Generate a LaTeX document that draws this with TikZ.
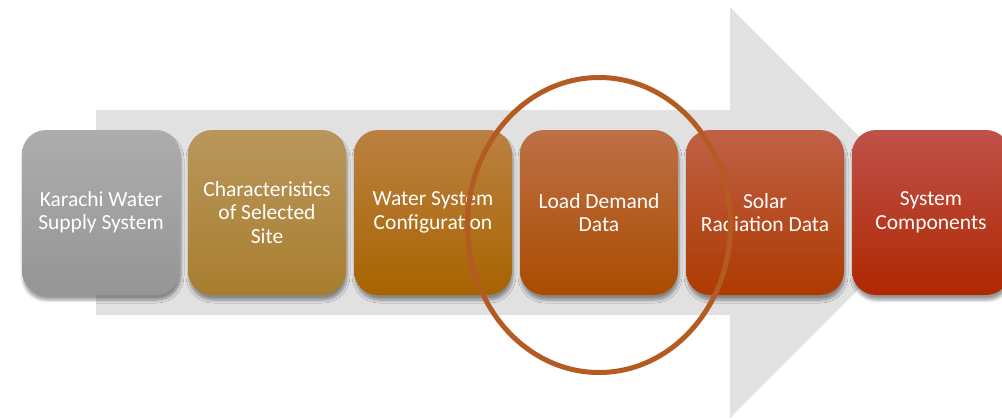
\documentclass[tikz,border=0pt]{standalone}
\usepackage{fontspec}
\setmainfont{Carlito}
\usetikzlibrary{shapes.geometric,shadows.blur}

% box colours: top / middle / bottom of each vertical gradient
\definecolor{g1t}{HTML}{ADADAD}\definecolor{g1m}{HTML}{A2A2A2}\definecolor{g1b}{HTML}{959595}
\definecolor{g2t}{HTML}{B9975C}\definecolor{g2m}{HTML}{B28A3A}\definecolor{g2b}{HTML}{A87D2E}
\definecolor{g3t}{HTML}{BB8142}\definecolor{g3m}{HTML}{B46E0C}\definecolor{g3b}{HTML}{A86300}
\definecolor{g4t}{HTML}{BD7046}\definecolor{g4m}{HTML}{B75606}\definecolor{g4b}{HTML}{AA4C00}
\definecolor{g5t}{HTML}{BF6046}\definecolor{g5m}{HTML}{BB4508}\definecolor{g5b}{HTML}{AE3A00}
\definecolor{g6t}{HTML}{C0514A}\definecolor{g6m}{HTML}{BB320A}\definecolor{g6b}{HTML}{AF2800}
\definecolor{arrowgrey}{HTML}{E1E1E1}
\definecolor{ringbrown}{HTML}{B35B22}

\tikzset{
  stepbox/.style n args={3}{
    rounded corners=24pt, minimum width=158pt, minimum height=165pt,
    inner sep=0pt, align=center, text=white,
    font=\fontsize{21.5}{23.5}\selectfont,
    top color=#1, middle color=#2, bottom color=#3,
    blur shadow={shadow xshift=1pt, shadow yshift=-5pt, shadow blur steps=6,
                 shadow opacity=40, shadow blur radius=3pt}
  },
  ring/.style={ellipse, draw=ringbrown, line width=5pt,
               minimum width=263pt, minimum height=295pt, inner sep=0pt}
}

\begin{document}
\begin{tikzpicture}[x=1pt,y=-1pt]
  \useasboundingbox (0,0) rectangle (1002,420);
  \clip (0,0) rectangle (1002,420);

  % broad background arrow
  \fill[arrowgrey] (96,110) -- (730,110) -- (730,7) -- (935,212.5)
                   -- (730,418) -- (730,315) -- (96,315) -- cycle;

  % process steps
  \node[stepbox={g1t}{g1m}{g1b}] (s1) at (101,212.5) {Karachi Water\\Supply System};
  \node[stepbox={g2t}{g2m}{g2b}] (s2) at (267,212.5) {Characteristics\\of Selected\\Site};
  \node[stepbox={g3t}{g3m}{g3b}] (s3) at (433,212.5) {Water System\\Configuration};
  \node[stepbox={g4t}{g4m}{g4b}] (s4) at (599,212.5) {Load Demand\\Data};
  \node[stepbox={g5t}{g5m}{g5b}] (s5) at (765,212.5) {Solar\\Radiation Data};
  \node[stepbox={g6t}{g6m}{g6b}] (s6) at (931,212.5) {System\\Components};

  % highlight ring around the current step
  \node[ring] (focus) at (599,225) {};
\end{tikzpicture}
\end{document}
